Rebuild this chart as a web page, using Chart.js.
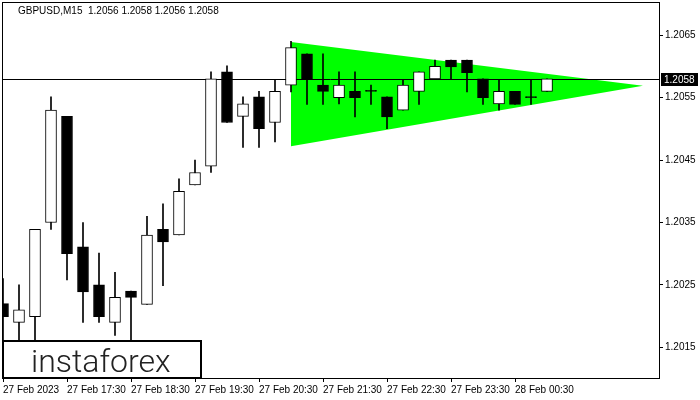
<!DOCTYPE html>
<html>
<head>
<meta charset="utf-8">
<script src="https://cdn.jsdelivr.net/npm/chart.js@4"></script>
<style>
  body { margin: 0; background: #fff; }
  #wrap { width: 700px; height: 400px; }
</style>
</head>
<body>
<div id="wrap"><canvas id="gbpChart"></canvas></div>
<script>
const symbol = 'GBPUSD,M15';

// one candle per 15 minutes, starting 27 Feb 16:30
const opens  = [1.20220, 1.20190, 1.20199, 1.20350, 1.20520, 1.20311, 1.20250, 1.20190, 1.20240, 1.20219,
                1.20339, 1.20330, 1.20410, 1.20440, 1.20591, 1.20520, 1.20551, 1.20510, 1.20570, 1.20620,
                1.20570, 1.20550, 1.20560, 1.20560, 1.20551, 1.20530, 1.20560, 1.20580, 1.20610, 1.20610,
                1.20580, 1.20540, 1.20560, 1.20550, 1.20560];
const highs  = [1.20260, 1.20250, 1.20339, 1.20551, 1.20520, 1.20350, 1.20301, 1.20270, 1.20240, 1.20360,
                1.20380, 1.20420, 1.20450, 1.20591, 1.20601, 1.20551, 1.20560, 1.20579, 1.20640, 1.20620,
                1.20620, 1.20591, 1.20591, 1.20570, 1.20551, 1.20579, 1.20591, 1.20610, 1.20610, 1.20610,
                1.20580, 1.20579, 1.20560, 1.20579, 1.20580];
const lows   = [1.20150, 1.20150, 1.20150, 1.20339, 1.20258, 1.20190, 1.20190, 1.20169, 1.20150, 1.20219,
                1.20249, 1.20330, 1.20410, 1.20430, 1.20510, 1.20470, 1.20470, 1.20479, 1.20559, 1.20539,
                1.20539, 1.20540, 1.20519, 1.20539, 1.20500, 1.20530, 1.20539, 1.20580, 1.20579, 1.20559,
                1.20539, 1.20530, 1.20539, 1.20539, 1.20560];
const closes = [1.20199, 1.20210, 1.20339, 1.20530, 1.20300, 1.20239, 1.20199, 1.20230, 1.20230, 1.20330,
                1.20319, 1.20400, 1.20430, 1.20580, 1.20510, 1.20540, 1.20500, 1.20560, 1.20630, 1.20580,
                1.20560, 1.20570, 1.20550, 1.20560, 1.20519, 1.20570, 1.20591, 1.20600, 1.20599, 1.20590,
                1.20550, 1.20560, 1.20539, 1.20550, 1.20580];

// bullish pennant (bar index, price)
const pennantX      = [18, 40];
const pennantTop    = [1.20639, 1.20569];
const pennantBottom = [1.20472, 1.20569];

const tickBars   = [0, 4, 8, 12, 16, 20, 24, 28, 32];
const tickLabels = ['27 Feb 2023', '27 Feb 17:30', '27 Feb 18:30', '27 Feb 19:30', '27 Feb 20:30',
                    '27 Feb 21:30', '27 Feb 22:30', '27 Feb 23:30', '28 Feb 00:30'];
const yTicks = [1.2015, 1.2025, 1.2035, 1.2045, 1.2055, 1.2065];

const last = closes.length - 1;
const lastClose = closes[last];

Chart.defaults.font.family = '"Liberation Sans", Arial, sans-serif';
Chart.defaults.font.size = 10;
Chart.defaults.color = '#000';

const isUp = i => closes[i] > opens[i];

const mtDecor = {
  id: 'mtDecor',
  beforeDatasetDraw(chart, args) {
    // price line sits above the pennant but under the candles
    if (args.index !== 1) return;
    const { ctx, chartArea, scales } = chart;
    const y = Math.round(scales.y.getPixelForValue(lastClose)) + 0.5;
    ctx.save();
    ctx.strokeStyle = '#000';
    ctx.lineWidth = 1;
    ctx.beginPath();
    ctx.moveTo(chartArea.left, y);
    ctx.lineTo(chartArea.right, y);
    ctx.stroke();
    ctx.restore();
  },
  afterDraw(chart) {
    const { ctx, chartArea, scales } = chart;
    ctx.save();
    // frame
    ctx.strokeStyle = '#000';
    ctx.lineWidth = 1;
    ctx.strokeRect(chartArea.left + 0.5, chartArea.top + 0.5,
      chartArea.right - chartArea.left, chartArea.bottom - chartArea.top);

    // header
    const ohlc = [opens[last], highs[last], lows[last], closes[last]].map(v => v.toFixed(4)).join(' ');
    ctx.fillStyle = '#000';
    ctx.font = '10px "Liberation Sans", Arial, sans-serif';
    ctx.textBaseline = 'middle';
    ctx.textAlign = 'left';
    ctx.fillText(symbol + '  ' + ohlc, 18, 11);

    // last price tag
    const y = Math.round(scales.y.getPixelForValue(lastClose));
    ctx.fillRect(chartArea.right + 2, y - 6, 37, 13);
    ctx.fillStyle = '#fff';
    ctx.fillText(lastClose.toFixed(4), chartArea.right + 5, y + 1);

    // logo box
    ctx.fillStyle = '#fff';
    ctx.fillRect(chartArea.left, 340, 199, chartArea.bottom - 340);
    ctx.lineWidth = 2;
    ctx.strokeStyle = '#000';
    ctx.strokeRect(chartArea.left + 1, 341, 198, chartArea.bottom - 341);
    ctx.fillStyle = '#222';
    ctx.font = '300 32px Roboto, sans-serif';
    ctx.textBaseline = 'alphabetic';
    ctx.fillText('instaforex', 31, 372);
    ctx.restore();
  }
};

const idx = opens.map((_, i) => i);

new Chart(document.getElementById('gbpChart'), {
  type: 'bar',
  data: {
    datasets: [
      {
        label: 'body',
        order: 1,
        grouped: false,
        data: idx.map(i => ({ x: i, y: [opens[i], closes[i]] })),
        backgroundColor: ctx => (isUp(ctx.dataIndex) ? '#fff' : '#000'),
        borderColor: '#000',
        borderWidth: 1,
        borderSkipped: false,
        barThickness: 11,
        minBarLength: 1
      },
      {
        label: 'wick',
        order: 2,
        grouped: false,
        data: idx.map(i => ({ x: i, y: [lows[i], highs[i]] })),
        backgroundColor: '#000',
        borderWidth: 0,
        barThickness: 1
      },
      {
        type: 'line',
        label: 'pennantTop',
        order: 3,
        data: pennantX.map((x, i) => ({ x: x, y: pennantTop[i] })),
        borderWidth: 0,
        pointRadius: 0,
        backgroundColor: '#00ff00',
        fill: '+1'
      },
      {
        type: 'line',
        label: 'pennantBottom',
        order: 4,
        data: pennantX.map((x, i) => ({ x: x, y: pennantBottom[i] })),
        borderWidth: 0,
        pointRadius: 0,
        fill: false
      }
    ]
  },
  options: {
    responsive: true,
    maintainAspectRatio: false,
    animation: false,
    layout: { padding: { left: 2, top: 2, right: 0, bottom: 0 } },
    plugins: {
      legend: { display: false },
      tooltip: { enabled: false }
    },
    scales: {
      x: {
        type: 'linear',
        offset: false,
        min: -0.0625,
        max: 41,
        afterBuildTicks: scale => { scale.ticks = tickBars.map(v => ({ value: v })); },
        afterFit: scale => {
          scale.height = 22;
          scale.paddingLeft = 0;
          scale.paddingRight = 0;
        },
        grid: { offset: false, drawOnChartArea: false, drawTicks: true, tickLength: 4, color: '#000' },
        border: { display: true, color: '#000' },
        ticks: {
          align: 'start',
          maxRotation: 0,
          autoSkip: false,
          padding: 2,
          callback: value => tickLabels[tickBars.indexOf(value)]
        }
      },
      y: {
        position: 'right',
        min: 1.20101,
        max: 1.20703,
        afterBuildTicks: scale => { scale.ticks = yTicks.map(v => ({ value: v })); },
        afterFit: scale => {
          scale.width = 41;
          scale.paddingTop = 0;
          scale.paddingBottom = 0;
        },
        grid: { drawOnChartArea: false, drawTicks: true, tickLength: 4, color: '#000' },
        border: { display: true, color: '#000' },
        ticks: {
          padding: 2,
          callback: value => value.toFixed(4)
        }
      }
    }
  },
  plugins: [mtDecor]
});
</script>
</body>
</html>
